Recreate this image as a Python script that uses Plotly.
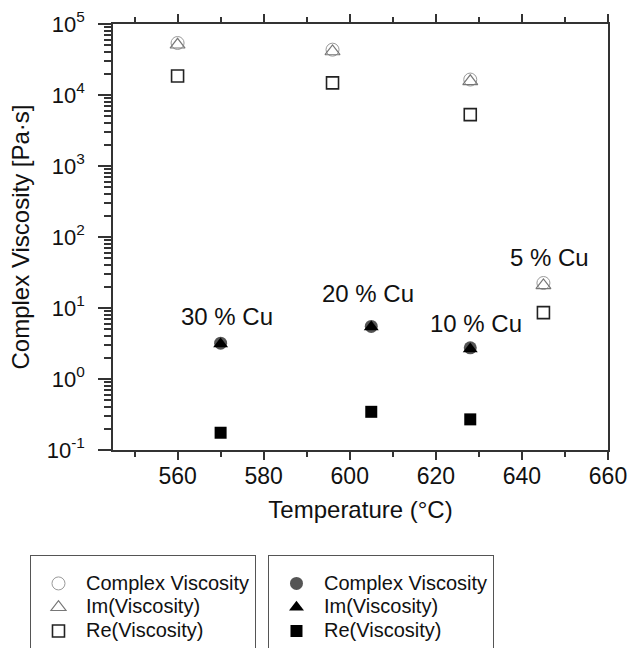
import math
import plotly.graph_objects as go

# Hollow-marker series
t_open = [560, 596, 628, 645]
complex_open = [54000, 43500, 16500, 22.5]
im_open = [51000, 41000, 15600, 20.8]
re_open = [18500, 14800, 5300, 8.6]

# Filled-marker series
t_fill = [570, 605, 628]
complex_fill = [3.2, 5.5, 2.75]
im_fill = [3.1, 5.4, 2.65]
re_fill = [0.175, 0.345, 0.27]

# Series names
names = ["Complex Viscosity", "Im(Viscosity)", "Re(Viscosity)"]

# Composition labels
label_text = ["30 % Cu", "20 % Cu", "10 % Cu", "5 % Cu"]
label_x = [571.5, 604.2, 629.3, 646.5]
label_y = [7.5, 15.8, 6.0, 52.0]

y_tickvals = [0.1, 1, 10, 100, 1000, 10000, 100000]
y_ticktext = ["10<sup>-1</sup>", "10<sup>0</sup>", "10<sup>1</sup>", "10<sup>2</sup>",
              "10<sup>3</sup>", "10<sup>4</sup>", "10<sup>5</sup>"]
y_minor = [m * d for d in [0.1, 1, 10, 100, 1000, 10000] for m in range(2, 10)]

FONT = "Liberation Sans, Arial, sans-serif"


def lg(name):
    return "<span style='font-size:20px'>" + name + "</span>"


fig = go.Figure()

fig.add_trace(go.Scatter(x=t_open, y=complex_open, mode="markers", name=lg(names[0]),
                         legend="legend",
                         marker=dict(symbol="circle-open", size=13, color="#9a9a9a", line=dict(width=1))))
fig.add_trace(go.Scatter(x=t_open, y=im_open, mode="markers", name=lg(names[1]),
                         legend="legend",
                         marker=dict(symbol="triangle-up-open", size=13, color="#777777", line=dict(width=1.2))))
fig.add_trace(go.Scatter(x=t_open, y=re_open, mode="markers", name=lg(names[2]),
                         legend="legend",
                         marker=dict(symbol="square-open", size=12, color="#222222", line=dict(width=1.6))))

fig.add_trace(go.Scatter(x=t_fill, y=complex_fill, mode="markers", name=lg(names[0]),
                         legend="legend2",
                         marker=dict(symbol="circle", size=13, color="#555555")))
fig.add_trace(go.Scatter(x=t_fill, y=im_fill, mode="markers", name=lg(names[1]),
                         legend="legend2",
                         marker=dict(symbol="triangle-up", size=13, color="#000000")))
fig.add_trace(go.Scatter(x=t_fill, y=re_fill, mode="markers", name=lg(names[2]),
                         legend="legend2",
                         marker=dict(symbol="square", size=12, color="#000000")))

for txt, x, y in zip(label_text, label_x, label_y):
    fig.add_annotation(x=x, y=math.log10(y), text=txt, showarrow=False,
                       font=dict(size=24, color="#111111", family=FONT),
                       xanchor="center", yanchor="middle")

axis_color = "#333333"
fig.update_xaxes(range=[545, 660], dtick=20, tick0=560,
                 showline=True, linecolor=axis_color, linewidth=1.5, mirror="ticks",
                 ticks="outside", ticklen=8, tickwidth=1.5, tickcolor=axis_color,
                 minor=dict(dtick=10, tick0=550, ticks="outside", ticklen=5, tickwidth=1.5,
                            tickcolor=axis_color, showgrid=False),
                 showgrid=False, zeroline=False,
                 tickfont=dict(size=23, color="#111111", family=FONT),
                 ticklabelstandoff=-3,
                 title=dict(text="Temperature (°C)", font=dict(size=24, color="#111111", family=FONT),
                            standoff=13))
fig.update_yaxes(type="log", range=[-1, 5], tickmode="array", tickvals=y_tickvals, ticktext=y_ticktext,
                 showline=True, linecolor=axis_color, linewidth=1.5, mirror=True,
                 ticks="outside", ticklen=13, tickwidth=1.5, tickcolor=axis_color,
                 minor=dict(tickmode="array", tickvals=y_minor, ticks="outside", ticklen=7,
                            tickwidth=1.5, tickcolor=axis_color, showgrid=False),
                 showgrid=False, zeroline=False,
                 tickfont=dict(size=22, color="#111111", family=FONT),
                 ticklabelstandoff=9,
                 title=dict(text="Complex Viscosity [Pa·s]", font=dict(size=24, color="#111111", family=FONT),
                            standoff=10))

legend_common = dict(bgcolor="white", bordercolor="#555555", borderwidth=1,
                     font=dict(size=16, color="#111111", family=FONT),
                     title=dict(text="\u00a0", font=dict(size=8, family=FONT)),
                     itemwidth=45, yanchor="top", xanchor="left", orientation="v")
fig.update_layout(
    width=629, height=648,
    margin=dict(l=113, r=21, t=24, b=198, autoexpand=False),
    paper_bgcolor="white", plot_bgcolor="white",
    font=dict(family=FONT, color="#111111"),
    showlegend=True,
    legend=dict(x=-0.1677, y=-0.2468, **legend_common),
    legend2=dict(x=0.3131, y=-0.2468, **legend_common),
)

fig.write_html("out.html")
